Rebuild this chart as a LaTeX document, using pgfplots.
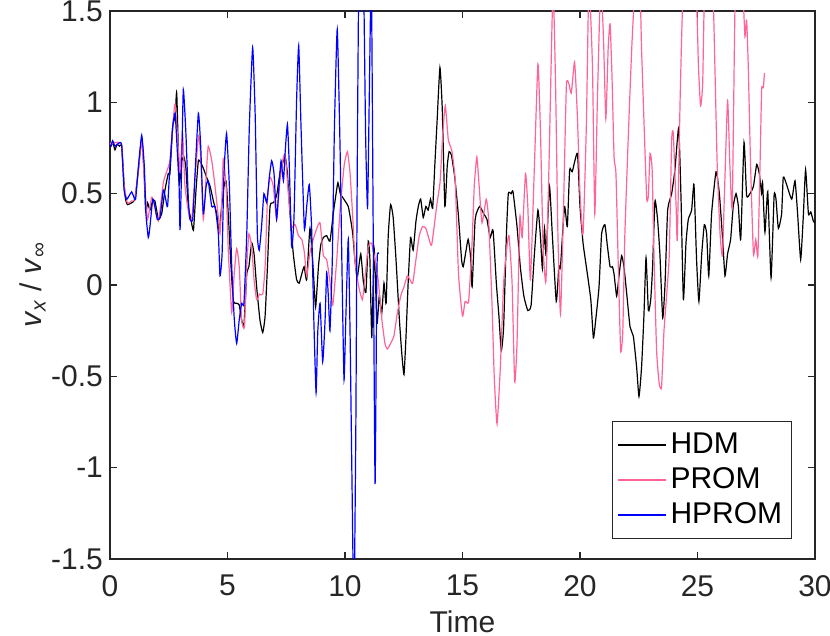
\documentclass[border=0pt]{standalone}
\usepackage{fontspec}
\setmainfont{Liberation Sans}
\usepackage{pgfplots}
\pgfplotsset{compat=1.18}
\definecolor{axgray}{RGB}{38,38,38}
\definecolor{prompink}{RGB}{255,100,150}
\definecolor{hpromblue}{RGB}{0,0,255}

\pgfplotstableread{
t v
0.00 0.77
0.04 0.76
0.12 0.78
0.21 0.74
0.30 0.77
0.40 0.76
0.50 0.76
0.60 0.55
0.66 0.47
0.74 0.44
0.92 0.45
1.06 0.47
1.20 0.62
1.35 0.80
1.45 0.62
1.52 0.40
1.60 0.45
1.70 0.41
1.82 0.46
1.91 0.46
2.06 0.36
2.20 0.39
2.34 0.52
2.48 0.61
2.55 0.61
2.67 0.87
2.77 0.92
2.84 1.05
2.95 0.56
3.05 0.68
3.15 0.70
3.23 0.64
3.33 0.43
3.43 0.37
3.55 0.30
3.66 0.52
3.76 0.68
3.86 0.67
3.97 0.64
4.11 0.59
4.26 0.54
4.40 0.46
4.54 0.39
4.65 0.30
4.75 0.43
4.85 0.54
4.94 0.57
5.04 0.37
5.15 0.10
5.25 -0.09
5.39 -0.10
5.50 -0.11
5.60 -0.19
5.70 -0.22
5.82 0.06
5.91 0.10
6.03 0.23
6.13 0.17
6.24 -0.01
6.38 -0.19
6.50 -0.26
6.60 -0.17
6.70 0.10
6.81 0.43
6.95 0.45
7.09 0.49
7.23 0.61
7.35 0.67
7.46 0.70
7.55 0.61
7.66 0.39
7.80 0.17
7.94 0.03
8.05 0.01
8.16 0.06
8.26 0.10
8.37 0.03
8.51 0.31
8.65 0.08
8.75 -0.12
8.87 0.10
8.97 0.22
9.08 0.26
9.22 0.27
9.36 0.24
9.50 0.39
9.62 0.50
9.70 0.56
9.80 0.50
9.90 0.48
10.00 0.46
10.14 0.43
10.25 0.35
10.33 0.28
10.42 0.14
10.52 0.04
10.67 0.17
10.78 0.02
10.89 -0.04
10.99 0.24
11.06 0.14
11.14 -0.29
11.24 0.20
11.36 -0.21
11.46 -0.06
11.56 -0.16
11.66 0.01
11.75 -0.10
11.84 0.27
11.94 0.44
12.05 0.37
12.17 0.14
12.31 -0.18
12.42 -0.38
12.51 -0.49
12.59 -0.30
12.69 0.02
12.79 0.26
12.90 0.19
13.02 0.35
13.12 0.43
13.22 0.47
13.33 0.37
13.44 0.43
13.54 0.41
13.64 0.47
13.73 0.42
13.82 0.65
13.92 0.90
14.04 1.19
14.14 0.96
14.25 0.43
14.35 0.65
14.43 0.73
14.53 0.71
14.67 0.59
14.82 0.39
14.96 0.14
15.03 0.10
15.14 0.18
15.24 0.25
15.34 0.16
15.41 -0.01
15.54 0.36
15.73 0.43
15.90 0.39
16.04 0.36
16.18 0.26
16.30 0.30
16.44 0.01
16.55 -0.17
16.65 -0.36
16.75 -0.23
16.87 0.28
16.95 0.50
17.07 0.50
17.15 0.51
17.32 0.32
17.46 0.10
17.61 -0.06
17.78 -0.14
17.92 -0.11
18.06 0.17
18.21 0.41
18.32 0.26
18.40 0.09
18.49 0.31
18.56 0.16
18.70 0.54
18.82 0.28
18.99 -0.09
19.10 0.10
19.17 0.10
19.34 0.43
19.46 0.32
19.56 0.63
19.67 0.62
19.89 0.72
20.00 0.43
20.13 0.23
20.27 0.10
20.46 -0.08
20.57 -0.29
20.67 -0.19
20.81 -0.01
20.92 0.28
21.06 0.33
21.16 0.22
21.28 0.10
21.38 0.10
21.45 0.06
21.56 -0.06
21.66 0.05
21.77 0.16
21.87 0.10
21.99 -0.05
22.13 -0.23
22.27 -0.28
22.41 -0.45
22.51 -0.61
22.62 -0.45
22.72 -0.17
22.81 0.15
22.91 -0.14
23.01 -0.08
23.09 0.10
23.19 0.46
23.30 0.36
23.40 0.17
23.52 -0.18
23.62 0.01
23.73 0.41
23.90 0.50
24.04 0.63
24.20 0.86
24.30 0.47
24.40 -0.08
24.51 0.23
24.61 0.36
24.75 0.41
24.85 0.55
24.96 0.14
25.06 -0.09
25.18 0.17
25.29 0.33
25.39 0.28
25.48 0.05
25.60 0.39
25.79 0.62
25.93 0.50
26.07 0.25
26.17 0.05
26.28 0.17
26.41 0.25
26.52 0.43
26.64 0.50
26.74 0.43
26.84 0.25
26.98 0.78
27.09 0.49
27.23 0.50
27.38 0.54
27.52 0.66
27.63 0.61
27.73 0.50
27.77 0.56
27.87 0.29
27.99 0.51
28.13 0.04
28.26 0.49
28.34 0.47
28.44 0.31
28.58 0.39
28.65 0.59
28.79 0.55
29.01 0.47
29.15 0.57
29.26 0.39
29.39 0.14
29.50 0.37
29.60 0.63
29.72 0.39
29.82 0.40
29.93 0.35
30.00 0.34
}\hdm

\pgfplotstableread{
t v
0.00 0.78
0.04 0.77
0.20 0.78
0.43 0.78
0.50 0.76
0.60 0.55
0.74 0.45
0.92 0.46
1.06 0.47
1.20 0.62
1.35 0.79
1.48 0.54
1.60 0.36
1.77 0.48
1.87 0.45
2.06 0.35
2.27 0.56
2.41 0.62
2.55 0.68
2.67 0.87
2.77 0.99
2.91 0.74
2.98 0.62
3.09 0.83
3.19 0.54
3.38 0.37
3.48 0.36
3.59 0.54
3.77 0.82
3.86 0.70
3.97 0.36
4.09 0.59
4.18 0.76
4.33 0.68
4.47 0.54
4.61 0.37
4.68 0.28
4.75 0.43
4.82 0.69
4.94 0.54
5.04 0.17
5.18 -0.15
5.28 0.05
5.39 0.20
5.50 0.10
5.60 -0.19
5.72 -0.23
5.82 0.10
5.91 0.28
6.03 0.21
6.13 0.03
6.24 -0.08
6.36 -0.05
6.50 -0.05
6.60 0.10
6.70 0.47
6.81 0.59
6.95 0.54
7.09 0.36
7.23 0.57
7.38 0.70
7.46 0.71
7.59 0.50
7.73 0.32
7.88 0.33
8.02 0.27
8.16 0.25
8.27 0.18
8.37 0.05
8.51 0.18
8.65 0.25
8.80 0.31
8.94 0.34
9.08 0.16
9.22 0.14
9.36 0.02
9.48 -0.11
9.65 0.14
9.79 0.41
9.96 0.65
10.10 0.73
10.21 0.62
10.33 0.37
10.42 0.14
10.57 0.00
10.74 -0.08
10.85 0.04
10.99 0.21
11.13 0.23
11.27 0.14
11.42 0.02
11.56 -0.18
11.70 -0.32
11.80 -0.35
11.94 -0.32
12.08 -0.28
12.22 -0.16
12.37 -0.06
12.51 -0.01
12.65 0.05
12.76 0.03
12.88 0.01
13.02 0.14
13.16 0.27
13.30 0.32
13.44 0.31
13.58 0.25
13.69 0.22
13.90 0.43
14.05 0.57
14.16 0.83
14.27 0.98
14.40 0.79
14.54 0.74
14.69 0.57
14.83 0.06
15.00 -0.17
15.11 -0.09
15.26 -0.09
15.40 0.21
15.50 0.54
15.61 0.70
15.71 0.54
15.83 0.34
16.01 0.47
16.11 0.36
16.25 -0.08
16.35 -0.50
16.47 -0.76
16.61 -0.45
16.75 0.01
16.89 0.21
16.98 0.27
17.11 0.01
17.22 -0.53
17.32 -0.32
17.44 0.37
17.54 0.26
17.68 0.61
17.78 0.43
17.89 0.03
18.06 0.65
18.21 1.21
18.32 0.83
18.43 0.21
18.55 0.02
18.68 0.65
18.85 1.62
18.96 1.10
19.06 0.28
19.17 -0.16
19.29 0.37
19.42 1.09
19.53 1.10
19.63 1.05
19.77 1.22
19.89 0.92
20.00 0.50
20.13 0.28
20.27 0.87
20.38 1.65
20.53 1.20
20.63 0.39
20.74 1.01
20.88 1.65
21.00 1.35
21.10 0.91
21.20 1.30
21.28 1.43
21.36 1.15
21.45 0.70
21.53 0.61
21.63 0.10
21.73 -0.36
21.82 -0.26
21.91 0.28
22.06 0.83
22.20 1.29
22.30 1.55
22.44 1.90
22.58 1.50
22.62 1.29
22.74 0.83
22.84 0.47
22.91 0.49
22.98 0.72
23.07 0.63
23.16 0.10
23.26 -0.36
23.37 -0.54
23.47 -0.56
23.57 -0.26
23.69 -0.05
23.80 0.17
23.90 0.79
23.97 0.83
24.09 0.43
24.14 0.25
24.26 1.01
24.37 1.55
24.65 2.30
24.96 1.55
25.04 1.20
25.13 0.98
25.22 1.10
25.29 1.55
25.48 1.90
25.67 1.55
25.74 1.20
25.84 0.65
25.96 0.28
26.06 0.16
26.14 0.47
26.28 1.01
26.38 0.65
26.48 0.43
26.60 1.55
26.78 1.90
26.95 1.55
27.02 1.36
27.09 1.45
27.16 1.20
27.26 0.65
27.38 0.17
27.48 0.25
27.57 0.16
27.66 0.65
27.73 1.07
27.80 1.08
27.85 1.16
}\prom

\pgfplotstableread{
t v
0.00 0.76
0.04 0.76
0.11 0.79
0.21 0.76
0.31 0.77
0.43 0.78
0.50 0.76
0.60 0.52
0.71 0.47
0.82 0.49
0.92 0.51
0.99 0.49
1.09 0.47
1.21 0.65
1.35 0.82
1.46 0.65
1.53 0.39
1.63 0.26
1.70 0.32
1.82 0.47
1.91 0.43
2.01 0.36
2.13 0.37
2.27 0.52
2.37 0.47
2.45 0.43
2.55 0.65
2.67 0.87
2.77 0.94
2.84 0.79
2.94 0.54
2.98 0.30
3.05 0.65
3.12 1.07
3.23 0.83
3.33 0.48
3.40 0.36
3.52 0.36
3.62 0.61
3.76 0.94
3.86 0.76
3.97 0.39
4.09 0.54
4.18 0.57
4.33 0.43
4.47 0.43
4.61 0.28
4.68 0.05
4.77 0.17
4.85 0.61
4.96 0.83
5.08 0.54
5.18 0.10
5.29 -0.19
5.39 -0.32
5.50 -0.19
5.60 -0.10
5.70 -0.10
5.82 0.28
5.93 0.87
6.07 1.30
6.18 0.92
6.27 0.28
6.35 0.19
6.45 0.32
6.55 0.50
6.67 0.45
6.78 0.59
6.88 0.68
6.98 0.61
7.09 0.36
7.19 0.54
7.28 0.68
7.38 0.57
7.45 0.72
7.55 0.88
7.63 0.65
7.73 0.21
7.83 0.37
7.94 1.01
8.03 1.31
8.13 0.86
8.27 0.31
8.37 0.43
8.48 0.55
8.58 0.31
8.68 -0.22
8.77 -0.59
8.84 -0.26
8.94 -0.10
9.05 -0.42
9.15 -0.20
9.22 0.07
9.29 -0.06
9.36 -0.25
9.46 0.14
9.55 0.86
9.67 1.40
9.79 0.75
9.89 -0.06
9.96 -0.52
10.04 -0.16
10.14 0.25
10.22 -0.30
10.30 -1.10
10.38 -1.80
10.46 -0.80
10.52 0.60
10.58 1.60
10.69 2.40
10.80 1.60
10.88 0.80
10.96 0.42
11.03 1.00
11.12 1.70
11.20 0.30
11.28 -1.09
11.35 0.00
11.38 0.17
11.43 0.17
}\hprom

\begin{document}
\begin{tikzpicture}
\begin{axis}[
    scale only axis,
    width=352.5pt, height=274pt,
    xmin=0, xmax=30, ymin=-1.5, ymax=1.5,
    xtick={0,5,...,30},
    xticklabels={0,5,10,15,20,25,30},
    ytick={-1.5,-1,-0.5,0,0.5,1,1.5},
    yticklabels={-1.5,-1,-0.5,0,0.5,1,1.5},
    tick align=inside,
    major tick length=3.5pt,
    axis line style={axgray, line width=0.6pt},
    every tick/.style={axgray, line width=0.6pt},
    tick label style={font=\fontsize{15}{18}\selectfont, text=axgray},
    xticklabel style={yshift=-4.5pt},
    label style={font=\fontsize{15}{18}\selectfont, text=axgray},
    xlabel={Time},
    ylabel={\textit{v}\textsubscript{\textit{x}} / \textit{v}\textsubscript{∞}},
    xlabel style={yshift=-0.5pt},
    ylabel style={yshift=-4pt},
    legend cell align=left,
    legend style={at={(0.967,0.036)}, anchor=south east,
        draw=axgray, line width=0.5pt, fill=white,
        font=\fontsize{15}{18}\selectfont,
        inner xsep=2.5pt, inner ysep=4pt, row sep=1.5pt},
    legend image code/.code={\path[draw, #1, line width=0.75pt] (0pt,0pt) -- (24pt,0pt);},
]
\addplot[color=black, line width=0.6pt, smooth, tension=0.3] table[x=t, y=v] {\hdm};
\addplot[color=prompink, line width=0.6pt, smooth, tension=0.3] table[x=t, y=v] {\prom};
\addplot[color=hpromblue, line width=0.6pt, smooth, tension=0.3] table[x=t, y=v] {\hprom};
\legend{HDM, PROM, HPROM}
\end{axis}
\pgfresetboundingbox
\path[use as bounding box] ([shift={(-55pt,-38.5pt)}]current axis.south west) rectangle ([shift={(7.5pt,5.5pt)}]current axis.north east);
\end{tikzpicture}
\end{document}
